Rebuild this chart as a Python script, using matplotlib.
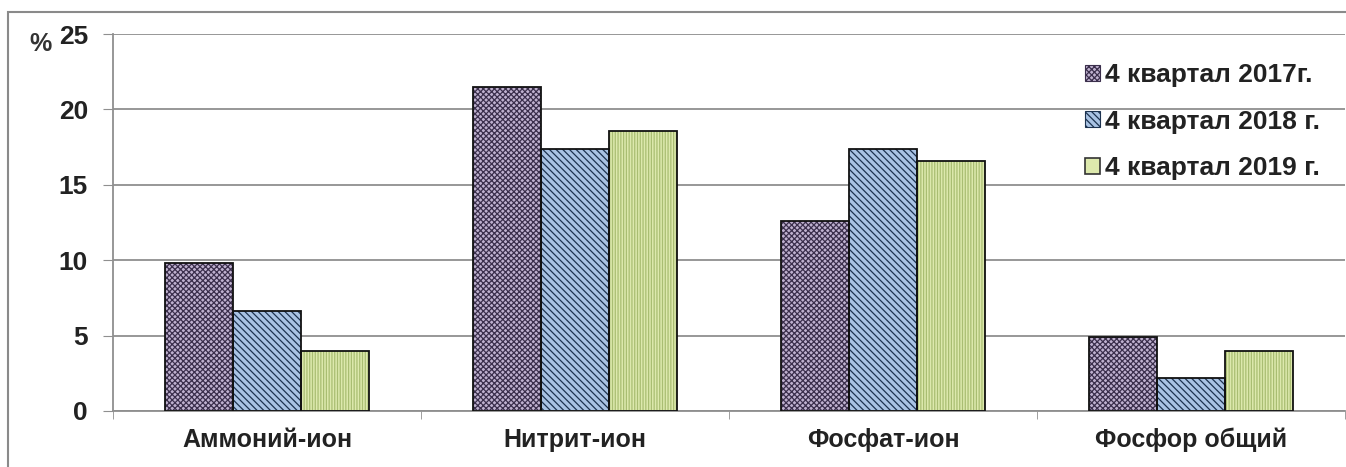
import matplotlib
matplotlib.use("Agg")
import matplotlib.pyplot as plt
from matplotlib.patches import Patch, Rectangle
import numpy as np

categories = ["Аммоний-ион", "Нитрит-ион", "Фосфат-ион", "Фосфор общий"]
series_names = ["4 квартал 2017г.", "4 квартал 2018 г.", "4 квартал 2019 г."]
q4_2017 = [9.8, 21.5, 12.6, 4.9]
q4_2018 = [6.6, 17.4, 17.4, 2.2]
q4_2019 = [4.0, 18.6, 16.6, 4.0]
yticks = [0, 5, 10, 15, 20, 25]

faces = ["#bfb1cf", "#a9c3e4", "#dde9ad"]
hatch_cols = ["#3b2f4c", "#1d3350", "#a9bd72"]
hatches = ["xxxxxx", "\\\\\\\\\\", "||||||"]

plt.rcParams["font.family"] = ["Liberation Sans Narrow", "Liberation Sans", "DejaVu Sans"]
plt.rcParams["hatch.linewidth"] = 0.9

W, H = 1346, 467
fig = plt.figure(figsize=(W / 100, H / 100), dpi=100)
ax = fig.add_axes([113 / W, (H - 411) / H, (1345 - 113) / W, (411 - 34) / H])

x = np.arange(len(categories))
bw = 0.22
for i, vals in enumerate([q4_2017, q4_2018, q4_2019]):
    pos = x + (i - 1) * bw
    ax.bar(pos, vals, bw, color=faces[i], edgecolor=hatch_cols[i],
           hatch=hatches[i], linewidth=0, zorder=2)
    ax.bar(pos, vals, bw, fill=False, edgecolor="#111111", linewidth=1.3, zorder=3)

ax.set_xlim(-0.5, len(categories) - 0.5)
ax.set_ylim(0, 25)
ax.set_yticks(yticks)
ax.yaxis.grid(True, color="#8f8f8f", linewidth=1.3, zorder=0)
ax.set_axisbelow(True)
for s in ["top", "right"]:
    ax.spines[s].set_visible(False)
for s in ["left", "bottom"]:
    ax.spines[s].set_color("#8f8f8f")
    ax.spines[s].set_linewidth(1.3)

ax.set_xticks(x)
ax.set_xticklabels(categories, fontsize=18, fontweight="bold", color="#222222")
ax.set_xticks(np.arange(len(categories) + 1) - 0.5, minor=True)
ax.tick_params(axis="x", which="major", length=0, pad=12)
ax.tick_params(axis="x", which="minor", length=6, color="#8f8f8f")
ax.tick_params(axis="y", length=7, color="#8f8f8f", pad=11,
               labelsize=19, labelcolor="#222222")
for t in ax.get_yticklabels():
    t.set_fontweight("bold")

fig.text(41 / W, 1 - 44 / H, "%", fontsize=18, fontweight="bold", color="#333333",
         ha="center", va="center")

handles = [Patch(facecolor=faces[0], edgecolor=hatch_cols[0], hatch=hatches[0], linewidth=0.8),
           Patch(facecolor=faces[1], edgecolor=hatch_cols[1], hatch=hatches[1], linewidth=0.8),
           Patch(facecolor=faces[2], edgecolor="#333333", linewidth=1.2)]
leg = ax.legend(handles, series_names, loc="upper right",
                bbox_to_anchor=(1333 / W, 1 - 50 / H), bbox_transform=fig.transFigure,
                frameon=False, fontsize=19, handlelength=0.55, handleheight=0.55,
                handletextpad=0.2, labelspacing=0.85, borderpad=0)
for t in leg.get_texts():
    t.set_fontweight("bold")
    t.set_color("#222222")

fig.add_artist(Rectangle((8 / W, -0.1), 1.2, (H - 12) / H + 0.1, transform=fig.transFigure,
                         fill=False, edgecolor="#8a8a8a", linewidth=1.5))

fig.savefig("out.png", dpi=100)
